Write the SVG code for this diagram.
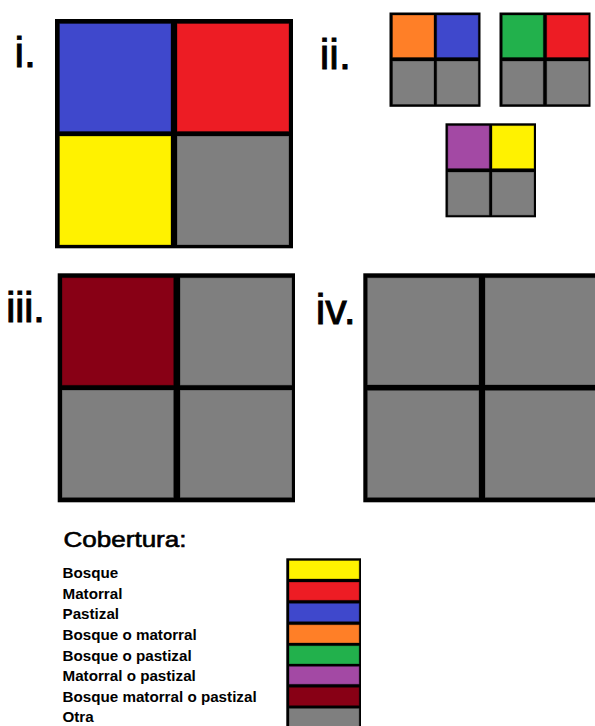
<svg xmlns="http://www.w3.org/2000/svg" width="595" height="726" viewBox="0 0 595 726">
<style>
.frame{fill:#000}
.c{stroke:#000;stroke-opacity:0.3;stroke-width:1}
.y{fill:#FFF200}.r{fill:#ED1C24}.b{fill:#3F48CC}.g{fill:#7F7F7F}
.o{fill:#FF7F27}.gr{fill:#22B14C}.p{fill:#A349A4}.d{fill:#880015}
.lbl{font-family:"Liberation Sans",Arial,sans-serif;font-size:43px;fill:#000;stroke:#000;stroke-width:0.9}
.title{font-family:"Liberation Sans",Arial,sans-serif;font-size:21.5px;fill:#000;stroke:#000;stroke-width:0.6}
.item{font-family:"Liberation Sans",Arial,sans-serif;font-size:15.2px;font-weight:bold;fill:#000}
</style>
<rect width="595" height="726" fill="#fff"/>
<g id="panel-i">
<text class="lbl" x="14.4" y="66.7">i.</text>
<rect class="frame" x="55" y="19" width="238" height="229.3"/>
<rect class="c b" x="59.5" y="23.5" width="111.5" height="108"/>
<rect class="c r" x="177" y="23.5" width="112" height="108"/>
<rect class="c y" x="59.5" y="136" width="111.5" height="109"/>
<rect class="c g" x="177" y="136" width="112" height="109"/>
</g>
<g id="panel-ii">
<text class="lbl" x="319.8" y="69">ii.</text>
<g id="panel-ii-a">
<rect class="frame" x="389.5" y="12.5" width="91" height="94.3"/>
<rect class="c o" x="392.5" y="15" width="41.5" height="42.5"/>
<rect class="c b" x="436.7" y="15" width="41.6" height="42.5"/>
<rect class="c g" x="392.5" y="61" width="41.5" height="43.5"/>
<rect class="c g" x="436.7" y="61" width="41.6" height="43.5"/>
</g>
<g id="panel-ii-b">
<rect class="frame" x="499.5" y="12.5" width="91" height="94.3"/>
<rect class="c gr" x="502.3" y="15" width="41" height="42.5"/>
<rect class="c r" x="546.7" y="15" width="42" height="42.5"/>
<rect class="c g" x="502.3" y="61" width="41" height="43.5"/>
<rect class="c g" x="546.7" y="61" width="42" height="43.5"/>
</g>
<g id="panel-ii-c">
<rect class="frame" x="445.5" y="123.3" width="90.5" height="94"/>
<rect class="c p" x="447.8" y="125.6" width="41.5" height="43"/>
<rect class="c y" x="492" y="125.6" width="42" height="43"/>
<rect class="c g" x="447.8" y="172" width="41.5" height="43.3"/>
<rect class="c g" x="492" y="172" width="42" height="43.3"/>
</g>
</g>
<g id="panel-iii">
<text class="lbl" x="6" y="321.7" textLength="39" lengthAdjust="spacing">iii.</text>
<rect class="frame" x="57.7" y="273.3" width="237.3" height="229"/>
<rect class="c d" x="62" y="277.7" width="111.7" height="107.6"/>
<rect class="c g" x="180" y="277.7" width="112" height="107.6"/>
<rect class="c g" x="62" y="390" width="111.7" height="107.7"/>
<rect class="c g" x="180" y="390" width="112" height="107.7"/>
</g>
<g id="panel-iv">
<text class="lbl" x="315.8" y="324">iv.</text>
<rect class="frame" x="363.3" y="273.3" width="240" height="229"/>
<rect class="c g" x="367.3" y="277.7" width="111.7" height="107.3"/>
<rect class="c g" x="485" y="277.7" width="115" height="107.3"/>
<rect class="c g" x="367.3" y="390.3" width="111.7" height="107.4"/>
<rect class="c g" x="485" y="390.3" width="115" height="107.4"/>
</g>
<g id="legend">
<text class="title" x="63.5" y="546.7" textLength="123" lengthAdjust="spacingAndGlyphs">Cobertura:</text>
<text class="item" x="62.5" y="578.3">Bosque</text>
<text class="item" x="62.5" y="598.9">Matorral</text>
<text class="item" x="62.5" y="619.4">Pastizal</text>
<text class="item" x="62.5" y="640">Bosque o matorral</text>
<text class="item" x="62.5" y="660.6">Bosque o pastizal</text>
<text class="item" x="62.5" y="681.2">Matorral o pastizal</text>
<text class="item" x="62.5" y="701.7">Bosque matorral o pastizal</text>
<text class="item" x="62.5" y="722.3">Otra</text>
<rect class="frame" x="286.3" y="558.3" width="74.7" height="175"/>
<rect class="c y" x="289" y="560.5" width="70.2" height="18.5"/>
<rect class="c r" x="289" y="582" width="70.2" height="18.3"/>
<rect class="c b" x="289" y="603.3" width="70.2" height="18.4"/>
<rect class="c o" x="289" y="624.7" width="70.2" height="18.3"/>
<rect class="c gr" x="289" y="645.7" width="70.2" height="18.3"/>
<rect class="c p" x="289" y="666.3" width="70.2" height="18"/>
<rect class="c d" x="289" y="687.3" width="70.2" height="18.4"/>
<rect class="c g" x="289" y="708.3" width="70.2" height="30"/>
</g>
</svg>
